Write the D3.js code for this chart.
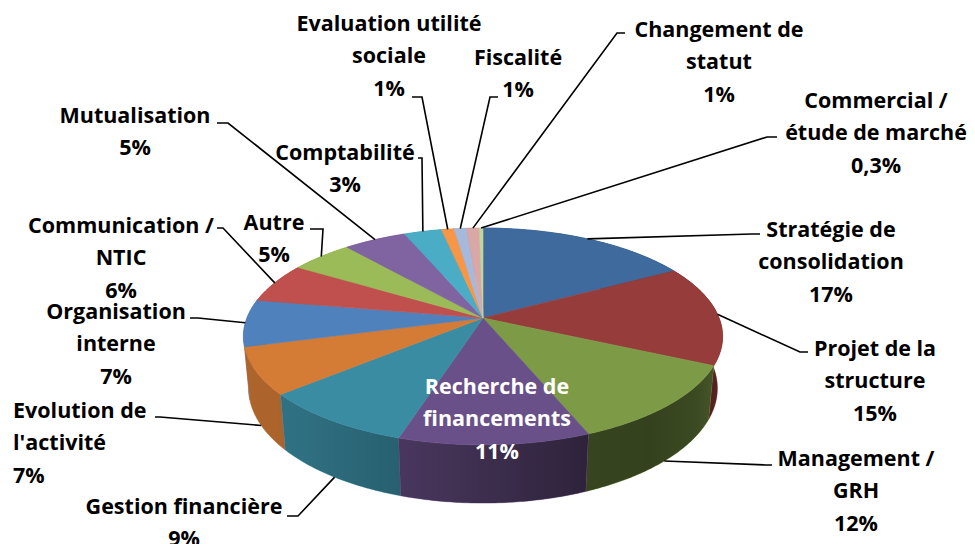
<!DOCTYPE html>
<html><head><meta charset="utf-8">
<script src="https://cdn.jsdelivr.net/npm/d3@7"></script>
<style>body{margin:0;background:#fff}</style>
</head><body><svg id="c" width="975" height="544"></svg>
<script>
const categories = ["Stratégie de consolidation", "Projet de la structure", "Management / GRH", "Recherche de financements", "Gestion financière", "Evolution de l'activité", "Organisation interne", "Communication / NTIC", "Autre", "Mutualisation", "Comptabilité", "Evaluation utilité sociale", "Fiscalité", "Changement de statut", "Commercial / étude de marché"];
const values = [17, 15, 12, 11, 9, 7, 7, 6, 5, 5, 3, 1, 1, 1, 0.3];
const valueLabels = ["17%","15%","12%","11%","9%","7%","7%","6%","5%","5%","3%","1%","1%","1%","0,3%"];
const labelLines = [["Stratégie de","consolidation"],["Projet de la","structure"],["Management /","GRH"],["Recherche de","financements"],["Gestion financière"],["Evolution de","l'activité"],["Organisation","interne"],["Communication /","NTIC"],["Autre"],["Mutualisation"],["Comptabilité"],["Evaluation utilité","sociale"],["Fiscalité"],["Changement de","statut"],["Commercial /","étude de marché"]];
const colors = ["#3F6A9E","#963D3B","#7D9B47","#6A5088","#3A8CA2","#D47B36","#4F81BD","#C0504D","#9BBB59","#8064A2","#4BACC6","#F79646","#A7B9DB","#D9A7A6","#C3D69B"];

// label layout (positions only)
const labelLayout = [
 {x:831, y:229, anchor:"middle", pts:[[752,234],[760,234]]},
 {x:875, y:348, anchor:"middle", pts:[[800,352],[808,352]]},
 {x:856, y:458, anchor:"middle", pts:[[766,465],[772,465]]},
 {x:497, y:386, anchor:"middle", inside:true},
 {x:184, y:506, anchor:"middle", pts:[[298,516],[287,516]]},
 {x:13,  y:410, anchor:"start",  pts:[[160,417],[155,417]]},
 {x:116, y:311, anchor:"middle", pts:[[198,318],[190,318]]},
 {x:121, y:225, anchor:"middle", pts:[[223,228],[217,228]]},
 {x:274, y:222, anchor:"middle", pts:[[323,229],[310,229]]},
 {x:135, y:115, anchor:"middle", pts:[[228,123],[217,123]]},
 {x:345, y:152, anchor:"middle", pts:[[422,158],[418,158]]},
 {x:389, y:23,  anchor:"middle", pts:[[422,97],[412,97]]},
 {x:518, y:57,  anchor:"middle", pts:[[490,97],[498,97]]},
 {x:719, y:29,  anchor:"middle", pts:[[617,33],[625,33]]},
 {x:876, y:100, anchor:"middle", pts:[[767,137],[777,137]]}
];
const lineGap = 32.5;

const svg = d3.select("#c");
const cx=483, cy=318, D=5.24, s=0.45, c=0.893, Fx=1237, Fy=1226, h=0.25;
function proj(X,Y,Z){const depth=D - Y*s + Z*c; const up=Y*c+Z*s; return [cx+Fx*X/depth, cy - Fy*up/depth];}
function rim(a, Y){return proj(Math.sin(a), Y, Math.cos(a));}
function arcPts(a0,a1,Y){const n=Math.max(2,Math.ceil((a1-a0)/0.01));return d3.range(n+1).map(i=>rim(a0+(a1-a0)*i/n,Y));}

const arcs = d3.pie().sort(null).value(d=>d)(values);
const line = d3.line();

const defs = svg.append("defs");
const g = defs.append("linearGradient").attr("id","shade").attr("gradientUnits","userSpaceOnUse")
  .attr("x1",243).attr("x2",722).attr("y1",0).attr("y2",0);
[[0,0.18],[0.12,0.2],[0.37,0.34],[0.71,0.56],[0.85,0.58],[0.95,0.52],[1,0.4]].forEach(([o,a])=>
  g.append("stop").attr("offset",o).attr("stop-color","#000").attr("stop-opacity",a));

// walls (back first)
const wallOrder = arcs.map((d,i)=>i).sort((a,b)=>Math.cos((arcs[b].startAngle+arcs[b].endAngle)/2)-Math.cos((arcs[a].startAngle+arcs[a].endAngle)/2));
const walls = svg.append("g");
wallOrder.forEach(i=>{
  const d=arcs[i];
  const pts = arcPts(d.startAngle,d.endAngle,0).concat(arcPts(d.startAngle,d.endAngle,-h).reverse());
  const p = line(pts)+"Z";
  walls.append("path").attr("d",p).attr("fill",colors[i]).attr("stroke",colors[i]).attr("stroke-width",0.5);
  walls.append("path").attr("d",p).attr("fill","url(#shade)");
});

// top face
const apex = proj(0,0,0);
const tops = svg.append("g");
arcs.forEach((d,i)=>{
  const pts=[apex].concat(arcPts(d.startAngle,d.endAngle,0));
  tops.append("path").attr("d",line(pts)+"Z").attr("fill",colors[i]).attr("stroke",colors[i]).attr("stroke-width",0.6).attr("stroke-linejoin","round");
});

// leader lines
const leaders = svg.append("g");
arcs.forEach((d,i)=>{
  const L = labelLayout[i];
  if(L.inside) return;
  const m=(d.startAngle+d.endAngle)/2;
  const start = Math.cos(m) < -0.3 ? rim(m,-h) : rim(m,0);
  leaders.append("path").attr("d", line([start].concat(L.pts)))
    .attr("fill","none").attr("stroke","#000").attr("stroke-width",1.6);
});

// labels
const labels = svg.append("g").style("font-family","'Open Sans', sans-serif").style("font-weight",700).style("font-size","21.5px");
arcs.forEach((d,i)=>{
  const L = labelLayout[i];
  const lines = labelLines[i].concat([valueLabels[i]]);
  const t = labels.append("text").attr("text-anchor",L.anchor).attr("fill", L.inside?"#fff":"#000");
  lines.forEach((txt,k)=>{
    t.append("tspan").attr("x",L.x).attr("y",L.y+k*lineGap).attr("dy","0.35em").text(txt);
  });
});
</script>
</body></html>
